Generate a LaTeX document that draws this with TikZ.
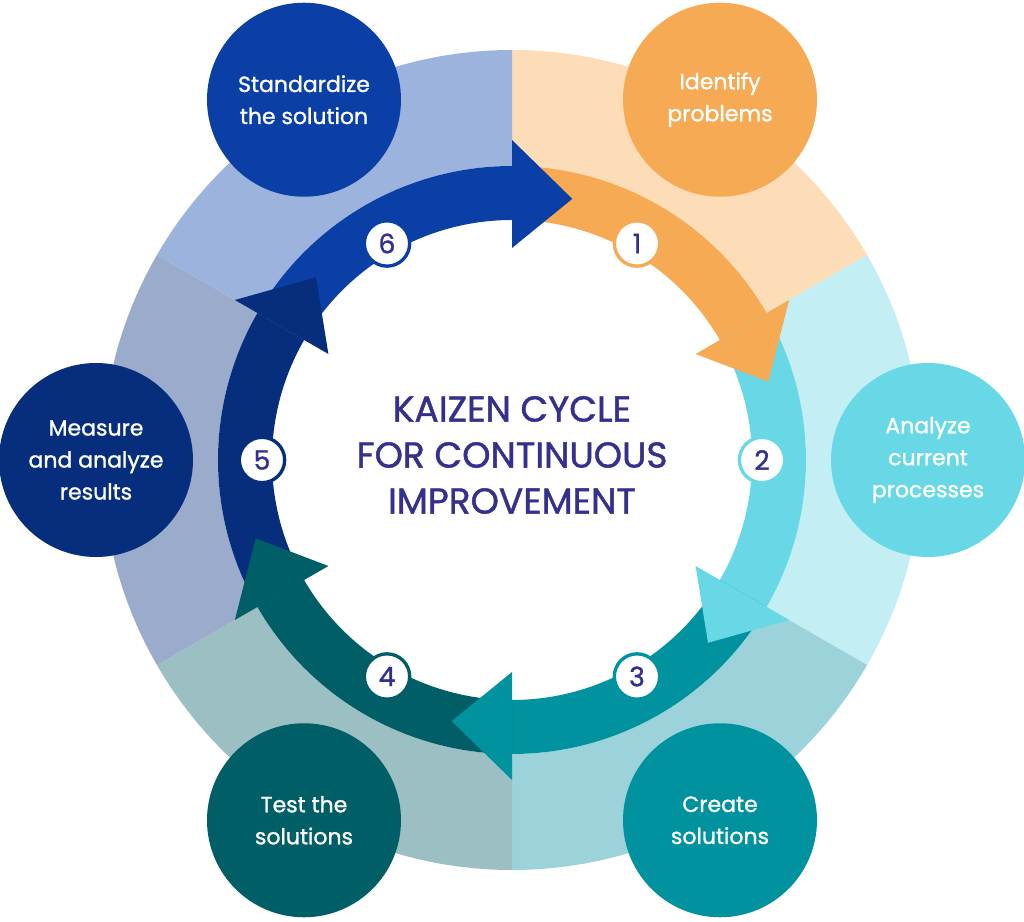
\documentclass[tikz,border=0pt]{standalone}
\usepackage{fontspec}
\setmainfont{Poppins}[UprightFeatures={FakeBold=1.2}]
\begin{document}
\begin{tikzpicture}[x=0.75pt,y=0.75pt,
  bubble/.style={circle,minimum size=145.5pt,inner sep=0pt,text=white,font=\fontsize{16.5}{24}\selectfont,align=center},
  numc/.style={circle,fill=white,line width=2.5pt,minimum size=34pt,inner sep=0pt,text=titlec,font=\fontsize{20}{20}\selectfont}]
\definecolor{titlec}{HTML}{34308C}
\definecolor{a1}{HTML}{F6AA54}\definecolor{s1}{HTML}{FDDCB8}
\definecolor{a2}{HTML}{68D8E6}\definecolor{s2}{HTML}{C2EEF4}
\definecolor{a3}{HTML}{00939F}\definecolor{s3}{HTML}{9CD3DB}
\definecolor{a4}{HTML}{005F66}\definecolor{s4}{HTML}{9CBFC4}
\definecolor{a5}{HTML}{062E7D}\definecolor{s5}{HTML}{9AABCC}
\definecolor{a6}{HTML}{0A3FA6}\definecolor{s6}{HTML}{9CB3DD}
\useasboundingbox (0,0) rectangle (1024,921);
\begin{scope}[shift={(512,461)}]
\foreach \k in {1,...,6}{
  \pgfmathsetmacro{\ts}{90-60*(\k-1)}
  \pgfmathsetmacro{\tb}{\ts-60}
  \fill[s\k] (\ts:410) arc[start angle=\ts,end angle=\tb,radius=410] -- (\tb:294) arc[start angle=\tb,end angle=\ts,radius=294] -- cycle;
}
\foreach \k in {1,...,6}{
  \pgfmathsetmacro{\ts}{90-60*(\k-1)}
  \pgfmathsetmacro{\tb}{\ts-60}
  \fill[a\k] (\ts:294) arc[start angle=\ts,end angle=\tb,radius=294] -- (\tb:240) arc[start angle=\tb,end angle=\ts,radius=240] -- cycle;
}
\foreach \k in {1,...,6}{
  \pgfmathsetmacro{\ts}{90-60*(\k-1)}
  \pgfmathsetmacro{\tb}{\ts-60}
  \pgfmathsetmacro{\tt}{\ts-73}
  \fill[a\k] (\tb:320) -- (\tt:268) -- (\tb:212) -- cycle;
}
\node[numc,draw=a1] (n1) at (60:250) {1};
\node[numc,draw=a2] (n2) at (0:250) {2};
\node[numc,draw=a3] (n3) at (-60:250) {3};
\node[numc,draw=a4] (n4) at (-120:250) {4};
\node[numc,draw=a5] (n5) at (180:250) {5};
\node[numc,draw=a6] (n6) at (120:250) {6};
\node[bubble,fill=a1] (b1) at (60:416) {Identify\\problems};
\node[bubble,fill=a2] (b2) at (0:416) {Analyze\\current\\processes};
\node[bubble,fill=a3] (b3) at (-60:416) {Create\\solutions};
\node[bubble,fill=a4] (b4) at (-120:416) {Test the\\solutions};
\node[bubble,fill=a5] (b5) at (180:416) {Measure\\and analyze\\results};
\node[bubble,fill=a6] (b6) at (120:416) {Standardize\\the solution};
\node[align=center,text=titlec,font=\fontsize{27}{34.5}\selectfont] (title) at (0,5) {KAIZEN CYCLE\\FOR CONTINUOUS\\IMPROVEMENT};
\end{scope}
\end{tikzpicture}
\end{document}
